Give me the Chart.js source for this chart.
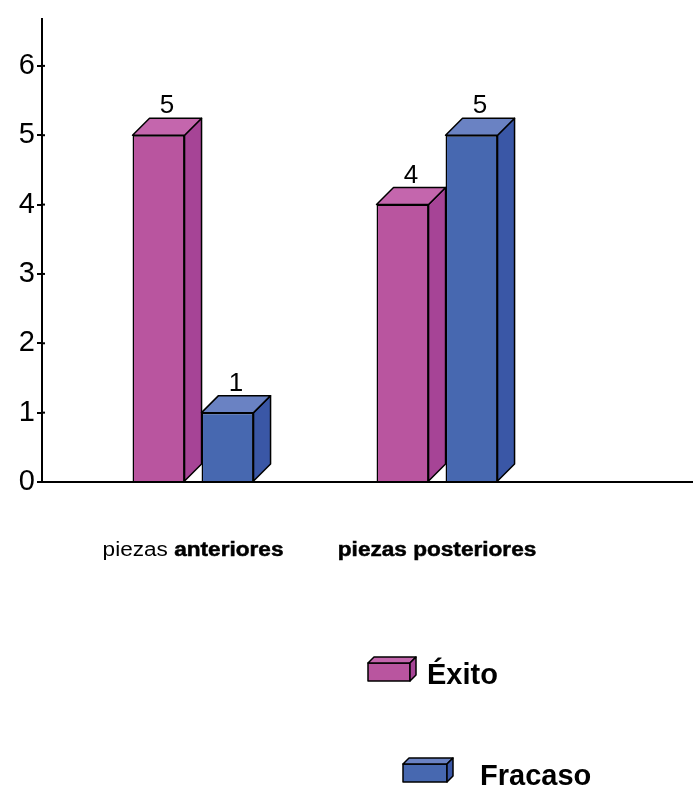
<!DOCTYPE html>
<html>
<head>
<meta charset="utf-8">
<script src="https://cdn.jsdelivr.net/npm/chart.js@4/dist/chart.umd.min.js"></script>
<style>
  html, body { margin: 0; padding: 0; background: #ffffff; }
  canvas { display: block; }
</style>
</head>
<body>
<canvas id="chart" width="693" height="789"></canvas>
<script>
// Resultados por tipo de pieza
const categories = ['piezas anteriores', 'piezas posteriores'];
const regularWords = [1, 0];          // leading words of each category label set in regular weight
const seriesNames = ['Éxito', 'Fracaso'];
const exito = [5, 4];
const fracaso = [1, 5];
const yTicks = [0, 1, 2, 3, 4, 5, 6];

// Face colours for the extruded bars
const FACES = {
  'Éxito':   { front: '#B9559F', side: '#A64496', top: '#C466AD' },
  'Fracaso': { front: '#4768B0', side: '#3A57A6', top: '#6A82C3' }
};
const DEPTH = 17;
const FONT = '"Liberation Sans", Arial, Helvetica, sans-serif';

function points(values) {
  return categories.map((_, i) => ({ x: i, y: values[i] }));
}

// Side and top faces of each bar plus the value above it
const extrude = {
  id: 'extrude',
  afterDatasetsDraw(chart) {
    const ctx = chart.ctx;
    chart.data.datasets.forEach((ds, di) => {
      const meta = chart.getDatasetMeta(di);
      const f = FACES[ds.label];
      meta.data.forEach((bar, i) => {
        const { x, y, base, width } = bar.getProps(['x', 'y', 'base', 'width'], true);
        const l = x - width / 2, r = x + width / 2;
        ctx.save();
        ctx.lineWidth = 1.5;
        ctx.strokeStyle = '#000';
        ctx.lineJoin = 'round';
        ctx.beginPath();
        ctx.moveTo(r, base);
        ctx.lineTo(r + DEPTH, base - DEPTH);
        ctx.lineTo(r + DEPTH, y - DEPTH);
        ctx.lineTo(r, y);
        ctx.closePath();
        ctx.fillStyle = f.side;
        ctx.fill();
        ctx.stroke();
        ctx.beginPath();
        ctx.moveTo(l, y);
        ctx.lineTo(l + DEPTH, y - DEPTH);
        ctx.lineTo(r + DEPTH, y - DEPTH);
        ctx.lineTo(r, y);
        ctx.closePath();
        ctx.fillStyle = f.top;
        ctx.fill();
        ctx.stroke();
        ctx.fillStyle = '#000';
        ctx.font = '26px ' + FONT;
        ctx.textAlign = 'center';
        ctx.textBaseline = 'alphabetic';
        ctx.fillText(String(ds.data[i].y), x + DEPTH / 2, y - DEPTH - 5);
        ctx.restore();
      });
    });
  }
};

// Small tick stubs on the inner side of the value axis
const innerTicks = {
  id: 'innerTicks',
  afterDraw(chart) {
    const ctx = chart.ctx;
    const ys = chart.scales.y;
    const x0 = chart.chartArea.left;
    ctx.save();
    ctx.strokeStyle = '#000';
    ctx.lineWidth = 2;
    ys.ticks.forEach(t => {
      const py = ys.getPixelForValue(t.value);
      ctx.beginPath();
      ctx.moveTo(x0, py);
      ctx.lineTo(x0 + 3, py);
      ctx.stroke();
    });
    ctx.restore();
  }
};

// Category names under the axis, partly bold
const categoryLabels = {
  id: 'categoryLabels',
  afterDraw(chart) {
    const ctx = chart.ctx;
    const xs = chart.scales.x;
    const stretch = 1.13;
    ctx.save();
    ctx.fillStyle = '#000';
    ctx.textBaseline = 'alphabetic';
    ctx.textAlign = 'left';
    categories.forEach((name, i) => {
      const words = name.split(' ');
      const runs = [];
      const reg = words.slice(0, regularWords[i]).join(' ');
      const bold = words.slice(regularWords[i]).join(' ');
      if (reg) runs.push({ t: reg + ' ', f: '20px ' + FONT });
      if (bold) runs.push({ t: bold, f: 'bold 20px ' + FONT });
      let total = 0;
      runs.forEach(r => { ctx.font = r.f; r.w = ctx.measureText(r.t).width; total += r.w; });
      const cx = xs.getPixelForValue(i);
      ctx.save();
      ctx.translate(cx, 556);
      ctx.scale(stretch, 1);
      let px = -total / 2;
      runs.forEach(r => {
        ctx.font = r.f;
        ctx.fillText(r.t, px, 0);
        if (r.f.startsWith('bold')) {
          ctx.lineWidth = 0.5;
          ctx.strokeStyle = '#000';
          ctx.strokeText(r.t, px, 0);
        }
        px += r.w;
      });
      ctx.restore();
    });
    ctx.restore();
  }
};

// Legend with small extruded swatches
const boxLegend = {
  id: 'boxLegend',
  afterDraw(chart) {
    const ctx = chart.ctx;
    const items = [
      { box: [368, 663, 42, 18], text: [427, 684] },
      { box: [403, 764, 44, 18], text: [480, 785] }
    ];
    chart.data.datasets.forEach((ds, di) => {
      const it = items[di];
      const f = FACES[ds.label];
      const [bx, by, bw, bh] = it.box;
      const d = 6;
      ctx.save();
      ctx.lineWidth = 1.5;
      ctx.strokeStyle = '#000';
      ctx.lineJoin = 'round';
      ctx.fillStyle = f.front;
      ctx.fillRect(bx, by, bw, bh);
      ctx.strokeRect(bx, by, bw, bh);
      ctx.beginPath();
      ctx.moveTo(bx, by); ctx.lineTo(bx + d, by - d); ctx.lineTo(bx + bw + d, by - d); ctx.lineTo(bx + bw, by); ctx.closePath();
      ctx.fillStyle = f.top; ctx.fill(); ctx.stroke();
      ctx.beginPath();
      ctx.moveTo(bx + bw, by); ctx.lineTo(bx + bw + d, by - d); ctx.lineTo(bx + bw + d, by + bh - d); ctx.lineTo(bx + bw, by + bh); ctx.closePath();
      ctx.fillStyle = f.side; ctx.fill(); ctx.stroke();
      ctx.fillStyle = '#000';
      ctx.font = 'bold 29px ' + FONT;
      ctx.textAlign = 'left';
      ctx.textBaseline = 'alphabetic';
      ctx.fillText(ds.label, it.text[0], it.text[1]);
      ctx.restore();
    });
  }
};

new Chart(document.getElementById('chart'), {
  type: 'bar',
  data: {
    datasets: [
      {
        label: seriesNames[0],
        data: points(exito),
        backgroundColor: FACES[seriesNames[0]].front,
        borderColor: '#000',
        borderWidth: 1.5,
        categoryPercentage: 0.5656,
        barPercentage: 0.754
      },
      {
        label: seriesNames[1],
        data: points(fracaso),
        backgroundColor: FACES[seriesNames[1]].front,
        borderColor: '#000',
        borderWidth: 1.5,
        categoryPercentage: 0.5656,
        barPercentage: 0.754
      }
    ]
  },
  options: {
    responsive: false,
    devicePixelRatio: 1,
    animation: false,
    layout: { padding: { top: 15, left: 0, right: 0, bottom: 0 } },
    plugins: {
      legend: { display: false },
      tooltip: { enabled: false }
    },
    scales: {
      x: {
        type: 'linear',
        offset: false,
        min: -0.619,
        max: 2.049,
        afterBuildTicks: s => { s.ticks = categories.map((_, i) => ({ value: i })); },
        afterFit: s => { s.height = 307; },
        ticks: { display: false },
        grid: { display: false },
        border: { display: true, color: '#000', width: 2 }
      },
      y: {
        min: 0,
        max: 6.67,
        afterBuildTicks: s => { s.ticks = yTicks.map(v => ({ value: v })); },
        afterFit: s => { s.width = 42; },
        ticks: {
          color: '#000',
          padding: 2,
          font: { family: FONT, size: 29 }
        },
        grid: {
          display: true,
          drawOnChartArea: false,
          drawTicks: true,
          tickLength: 5,
          color: '#000',
          lineWidth: 2
        },
        border: { display: true, color: '#000', width: 2 }
      }
    }
  },
  plugins: [extrude, innerTicks, categoryLabels, boxLegend]
});
</script>
</body>
</html>
